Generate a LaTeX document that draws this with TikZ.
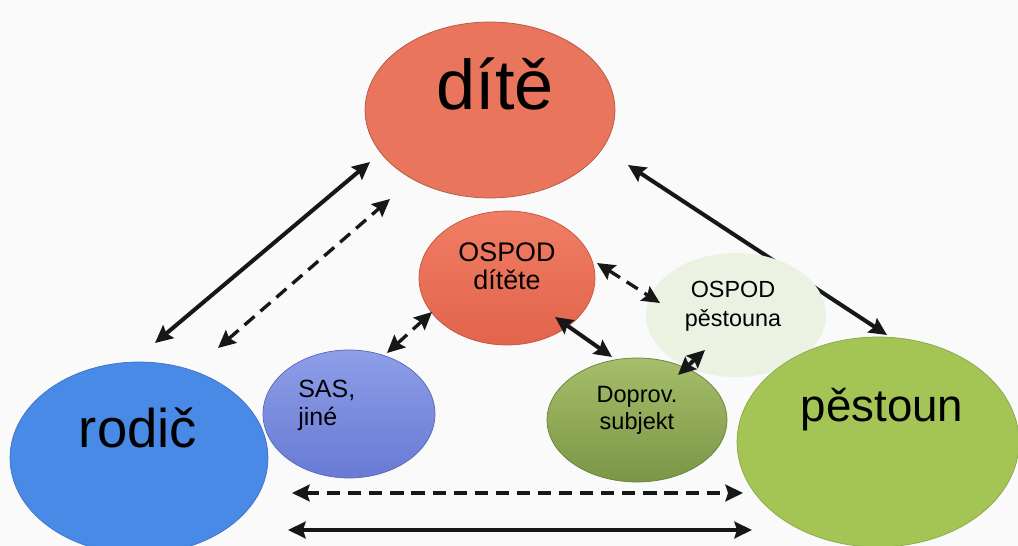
\documentclass[tikz,border=0pt]{standalone}
\usepackage{fontspec}
\setmainfont{Liberation Sans}
\usetikzlibrary{shapes.geometric,arrows.meta}
\definecolor{bgc}{RGB}{250,250,250}
\definecolor{diteC}{RGB}{233,117,92}
\definecolor{ospoddTop}{RGB}{240,126,100}
\definecolor{ospoddBot}{RGB}{226,100,76}
\definecolor{ospodpC}{RGB}{236,242,226}
\definecolor{sasTop}{RGB}{142,158,232}
\definecolor{sasBot}{RGB}{104,122,212}
\definecolor{doprTop}{RGB}{166,190,106}
\definecolor{doprBot}{RGB}{122,150,70}
\definecolor{rodicC}{RGB}{72,138,230}
\definecolor{pestC}{RGB}{164,196,86}
\definecolor{arr}{RGB}{22,24,24}
\pgfdeclarelayer{bg}
\pgfsetlayers{bg,main}
\tikzset{bl/.style={ellipse, inner sep=0pt, outer sep=0pt, line width=0.4pt}}
\tikzset{tx/.style={inner sep=0pt, text=black}}
\tikzset{sol/.style={draw=arr, line width=2.3pt, >={Stealth[length=10pt,width=9.5pt,inset=1.5pt]}, <->}}
\tikzset{das/.style={sol, line width=1.9pt, dash pattern=on 7.5pt off 4.5pt}}

\begin{document}
\begin{tikzpicture}[x=0.02cm, y=-0.02cm]
  \useasboundingbox (0,0) rectangle (1018,546);
  \begin{pgfonlayer}{bg}
    \fill[bgc] (0,0) rectangle (1018,546);
  \end{pgfonlayer}

  \node[bl, fill=diteC, draw=diteC!75!black, minimum width=5cm, minimum height=3.52cm] (dite) at (490,110) {};
  \node[bl, fill=rodicC, draw=rodicC!85!black, minimum width=5.16cm, minimum height=3.84cm] (rodic) at (139,458) {};
  \node[bl, top color=ospoddTop, bottom color=ospoddBot, draw=ospoddBot!85!black, minimum width=3.52cm, minimum height=2.68cm] (ospodd) at (507,278) {};
  \node[bl, top color=sasTop, bottom color=sasBot, draw=sasBot!85!black, minimum width=3.44cm, minimum height=2.56cm] (sas) at (349,414) {};
  \node[bl, fill=ospodpC, minimum width=3.6cm, minimum height=2.48cm] (ospodp) at (736,315) {};
  \node[bl, top color=doprTop, bottom color=doprBot, draw=doprBot!85!black, minimum width=3.6cm, minimum height=2.48cm] (doprov) at (637,420) {};
  \node[bl, fill=pestC, draw=pestC!85!black, minimum width=5.64cm, minimum height=4.2cm] (pestoun) at (878,442) {};

  \begin{pgfonlayer}{bg}
    \draw[sol] ([shift={(138,55)}]dite.center) -- ([shift={(9,-107)}]pestoun.center);
  \end{pgfonlayer}
  \draw[sol] ([shift={(16,-115)}]rodic.center) -- ([shift={(-120,52)}]dite.center);
  \draw[das] ([shift={(79,-110)}]rodic.center) -- ([shift={(-100,89)}]dite.center);
  \draw[das] ([shift={(90,-15)}]ospodd.center) -- ([shift={(-76,-12)}]ospodp.center);
  \draw[das] ([shift={(38,-61)}]sas.center) -- ([shift={(-75,34)}]ospodd.center);
  \draw[sol] ([shift={(48,39)}]ospodd.center) -- ([shift={(-25,-63)}]doprov.center);
  \draw[sol] ([shift={(41,-45)}]doprov.center) -- ([shift={(-31,35)}]ospodp.center);
  \draw[das] ([shift={(153,35)}]rodic.center) -- ([shift={(-135,51)}]pestoun.center);
  \draw[sol] ([shift={(149,72)}]rodic.center) -- ([shift={(-126,88)}]pestoun.center);

  \node[tx, anchor=base, font=\fontsize{40}{40}\selectfont] (diteT) at (495,110) {dítě};
  \node[tx, anchor=base, font=\fontsize{31}{31}\selectfont] (rodicT) at (138,448) {rodič};
  \node[tx, anchor=base, font=\fontsize{26}{26}\selectfont] (pestounT) at (882,422) {pěstoun};
  \node[tx, align=center, font=\fontsize{15.3}{15.9}\selectfont] (ospoddT) at (507,266) {OSPOD\\dítěte};
  \node[tx, align=center, font=\fontsize{13.3}{16.4}\selectfont] (ospodpT) at (733,306) {OSPOD\\pěstouna};
  \node[tx, align=center, font=\fontsize{13.4}{15.3}\selectfont] (doprovT) at (637,410) {Doprov.\\subjekt};
  \node[tx, align=left, anchor=west, font=\fontsize{14.2}{15.9}\selectfont] (sasT) at (298,405) {SAS,\\jiné};
\end{tikzpicture}
\end{document}
